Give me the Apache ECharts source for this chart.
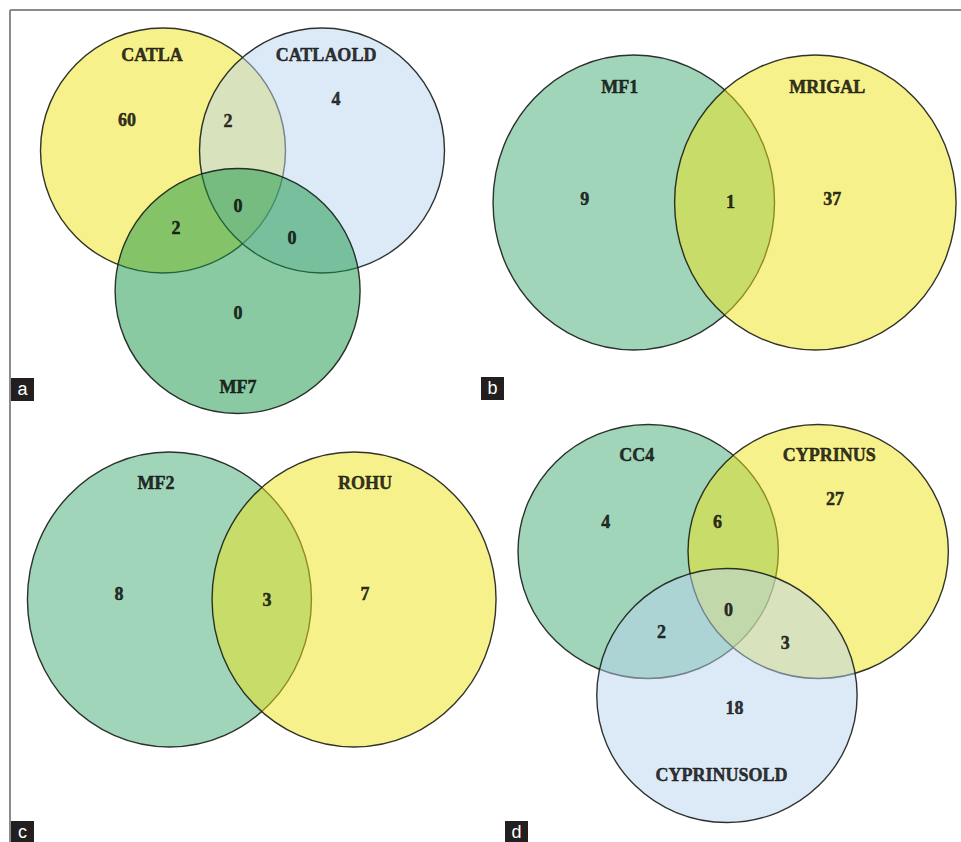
<!DOCTYPE html>
<html>
<head>
<meta charset="utf-8">
<title>Venn diagrams</title>
<script src="https://cdn.jsdelivr.net/npm/echarts@6/dist/echarts.min.js"></script>
<style>
  html, body { margin: 0; padding: 0; background: #fff; }
  #venn { width: 961px; height: 842px; }
</style>
</head>
<body>
<div id="venn"></div>
<script>
// set names and region counts
var setsA = ['CATLA', 'CATLAOLD', 'MF7'];
var countsA = [60, 4, 0, 2, 2, 0, 0];      // A, B, C, AB, AC, BC, ABC
var setsB = ['MF1', 'MRIGAL'];
var countsB = [9, 37, 1];                  // A, B, AB
var setsC = ['MF2', 'ROHU'];
var countsC = [8, 7, 3];                   // A, B, AB
var setsD = ['CC4', 'CYPRINUS', 'CYPRINUSOLD'];
var countsD = [4, 27, 18, 6, 2, 3, 0];     // A, B, C, AB, AC, BC, ABC
var panelTags = ['a', 'b', 'c', 'd'];

// fill colours (half transparent so the overlaps mix)
var YELLOW = 'rgba(239,227,24,0.5)';
var BLUE = 'rgba(185,211,237,0.5)';
var TEAL = 'rgba(65,171,117,0.5)';
var GREEN = 'rgba(20,150,70,0.5)';

// layout of every panel, circle radius = 1 unit
var panels = [
    {
        sets: setsA, counts: countsA,
        origin: [242.5, 220.75], unit: [122.5, 122.5], ext: [1.75, 1.65],
        circles: [[-0.649, -0.573], [0.649, -0.573], [-0.04, 0.573]],
        colors: [YELLOW, BLUE, GREEN],
        namePos: [[-0.739, -1.353], [0.682, -1.353], [-0.037, 1.357]],
        countPos: [[-0.943, -0.822], [0.763, -0.994], [-0.037, 0.753], [-0.118, -0.814],
                   [-0.543, 0.06], [0.404, 0.141], [-0.037, -0.12]]
    },
    {
        sets: setsB, counts: countsB,
        origin: [725, 202.5], unit: [141, 147.5], ext: [1.68, 1.1],
        circles: [[-0.645, 0], [0.645, 0]],
        colors: [TEAL, YELLOW],
        namePos: [[-0.745, -0.783], [0.73, -0.783]],
        countPos: [[-0.993, -0.024], [0.766, -0.024], [0.043, -0.003]]
    },
    {
        sets: setsC, counts: countsC,
        origin: [261.75, 599.5], unit: [142, 147.5], ext: [1.7, 1.1],
        circles: [[-0.65, 0], [0.65, 0]],
        colors: [TEAL, YELLOW],
        namePos: [[-0.745, -0.79], [0.727, -0.79]],
        countPos: [[-1.005, -0.037], [0.727, -0.037], [0.037, 0]]
    },
    {
        sets: setsD, counts: countsD,
        origin: [733.75, 623.5], unit: [130.5, 127], ext: [1.75, 1.65],
        circles: [[-0.653, -0.567], [0.653, -0.567], [-0.048, 0.567]],
        colors: [TEAL, YELLOW, BLUE],
        namePos: [[-0.741, -1.327], [0.738, -1.327], [-0.09, 1.193]],
        countPos: [[-0.979, -0.799], [0.783, -0.98], [0.01, 0.665], [-0.121, -0.799],
                   [-0.55, 0.067], [0.4, 0.154], [-0.036, -0.106]]
    }
];

// panel letter boxes: left, top, height (the lower two run into the page edge)
var tagBoxes = [[11, 378, 23], [481, 377, 23], [11, 821, 21], [505, 821, 21]];

function renderCircle(params, api) {
    var c = api.coord([api.value(0), api.value(1)]);
    var s = api.size([1, 1]);
    return {
        type: 'ellipse',
        shape: { cx: c[0], cy: c[1], rx: s[0], ry: s[1] },
        style: {
            fill: api.visual('color'),
            stroke: 'rgba(25,30,25,0.9)',
            lineWidth: 1.4
        }
    };
}

var grids = [], xAxes = [], yAxes = [], series = [];
panels.forEach(function (p, i) {
    grids.push({
        left: p.origin[0] - p.unit[0] * p.ext[0],
        top: p.origin[1] - p.unit[1] * p.ext[1],
        width: 2 * p.unit[0] * p.ext[0],
        height: 2 * p.unit[1] * p.ext[1],
        show: false
    });
    xAxes.push({ type: 'value', gridIndex: i, min: -p.ext[0], max: p.ext[0], show: false });
    yAxes.push({ type: 'value', gridIndex: i, min: -p.ext[1], max: p.ext[1], inverse: true, show: false });

    series.push({
        type: 'custom',
        xAxisIndex: i, yAxisIndex: i,
        silent: true,
        renderItem: renderCircle,
        data: p.circles.map(function (c, k) {
            return { value: c, itemStyle: { color: p.colors[k] } };
        })
    });

    var labels = p.sets.map(function (name, k) {
        return { name: name, value: p.namePos[k] };
    }).concat(p.counts.map(function (v, k) {
        return { name: String(v), value: p.countPos[k] };
    }));
    series.push({
        type: 'scatter',
        xAxisIndex: i, yAxisIndex: i,
        silent: true,
        symbolSize: 1,
        itemStyle: { color: 'transparent' },
        label: {
            show: true,
            position: 'inside',
            formatter: '{b}',
            fontFamily: '"Liberation Serif", "DejaVu Serif", serif',
            fontWeight: 'bold',
            fontSize: 18,
            color: '#000000',
            textBorderColor: '#000000',
            textBorderWidth: 0.5
        },
        data: labels
    });
});

var graphics = [
    { type: 'line', shape: { x1: 10, y1: 10, x2: 961, y2: 10 }, style: { stroke: '#8c8c8c', lineWidth: 2 } },
    { type: 'line', shape: { x1: 10, y1: 10, x2: 10, y2: 842 }, style: { stroke: '#8c8c8c', lineWidth: 2 } }
];
panelTags.forEach(function (t, i) {
    var b = tagBoxes[i];
    graphics.push({ type: 'rect', shape: { x: b[0], y: b[1], width: 23, height: b[2] }, style: { fill: '#231f20' } });
    graphics.push({
        type: 'text',
        x: b[0] + 11.5, y: b[1] + 11,
        style: {
            text: t, fill: '#ffffff',
            font: '18px "Liberation Sans", Arial, sans-serif',
            textAlign: 'center', textVerticalAlign: 'middle'
        }
    });
});

var vennChart = echarts.init(document.getElementById('venn'), null, { renderer: 'svg' });
vennChart.setOption({
    animation: false,
    backgroundColor: '#ffffff',
    grid: grids,
    xAxis: xAxes,
    yAxis: yAxes,
    graphic: graphics,
    series: series
});
</script>
</body>
</html>
